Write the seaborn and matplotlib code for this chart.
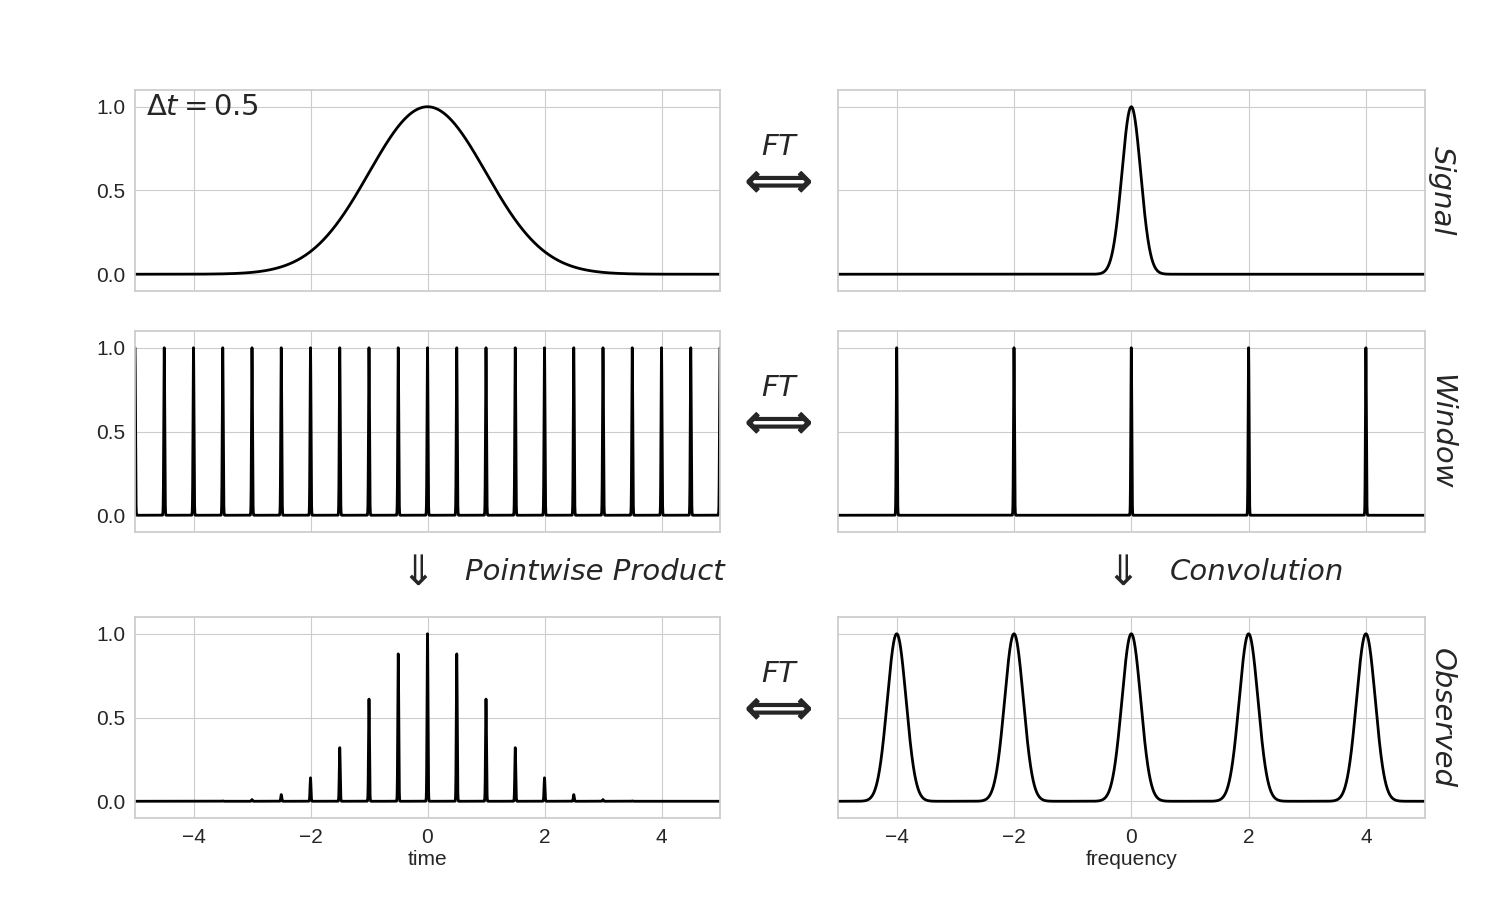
import numpy as np
import pandas as pd
import seaborn as sns
import matplotlib.pyplot as plt
import matplotlib.patheffects as pe

# values
time_range = [-5.0, 5.0]
freq_range = [-5.0, 5.0]

# signal: a single bump in time, its transform is a narrow bump in frequency
signal_center = [0.0]
signal_height = [1.0]
signal_width = 1.0
signal_ft_width = 0.16

# window: sampling every 0.5 in time, spikes every 2 in frequency
window_times = [-5.0, -4.5, -4.0, -3.5, -3.0, -2.5, -2.0, -1.5, -1.0, -0.5, 0.0,
                0.5, 1.0, 1.5, 2.0, 2.5, 3.0, 3.5, 4.0, 4.5, 5.0]
window_heights = [1.0] * len(window_times)
window_freqs = [-4.0, -2.0, 0.0, 2.0, 4.0]
window_freq_heights = [1.0, 1.0, 1.0, 1.0, 1.0]
spike_width = 0.008

# observed: sampled signal heights, periodic copies in frequency
observed_heights = [0.0, 0.0, 0.0, 0.002, 0.01, 0.04, 0.14, 0.32, 0.61, 0.88, 1.0,
                    0.88, 0.61, 0.32, 0.14, 0.04, 0.01, 0.002, 0.0, 0.0, 0.0]
observed_freqs = [-4.0, -2.0, 0.0, 2.0, 4.0]
observed_freq_heights = [1.0, 1.0, 1.0, 1.0, 1.0]

row_labels = ['Signal', 'Window', 'Observed']


def bumps(grid, centers, heights, width):
    y = np.zeros_like(grid)
    for c, h in zip(centers, heights):
        y = y + h * np.exp(-0.5 * ((grid - c) / width) ** 2)
    return y


t = np.linspace(time_range[0], time_range[1], 10001)
f = np.linspace(freq_range[0], freq_range[1], 10001)

curves = [
    (bumps(t, signal_center, signal_height, signal_width),
     bumps(f, signal_center, signal_height, signal_ft_width)),
    (bumps(t, window_times, window_heights, spike_width),
     bumps(f, window_freqs, window_freq_heights, spike_width)),
    (bumps(t, window_times, observed_heights, spike_width),
     bumps(f, observed_freqs, observed_freq_heights, signal_ft_width)),
]

sns.set_style('whitegrid')
plt.rcParams['font.family'] = ['Liberation Sans', 'DejaVu Sans']
plt.rcParams['mathtext.fontset'] = 'dejavusans'

fig = plt.figure(figsize=(15, 9), dpi=100)
rows_y = [0.6767, 0.4089, 0.0911]
h = 0.2233
txt = dict(family='DejaVu Sans', color='.15')
thick = [pe.withStroke(linewidth=1.0, foreground='.15')]

for i, (yt, yf) in enumerate(curves):
    axl = fig.add_axes([0.09, rows_y[i], 0.39, h])
    axr = fig.add_axes([0.5587, rows_y[i], 0.391, h])
    sns.lineplot(x=t, y=yt, ax=axl, color='black', lw=2)
    sns.lineplot(x=f, y=yf, ax=axr, color='black', lw=2)
    for ax in (axl, axr):
        ax.set_xlim(-5, 5)
        ax.set_ylim(-0.1, 1.1)
        ax.set_xticks([-4, -2, 0, 2, 4])
        ax.set_yticks([0, 0.5, 1.0])
        ax.tick_params(labelsize=15, colors='.15')
        for s in ax.spines.values():
            s.set_color('#cccccc')
            s.set_linewidth(1.25)
        if i < 2:
            ax.tick_params(labelbottom=False)
    axr.tick_params(labelleft=False)
    if i == 2:
        axl.set_xlabel('time', fontsize=15, color='.15', labelpad=2)
        axr.set_xlabel('frequency', fontsize=15, color='.15', labelpad=2)
    if i == 0:
        axl.text(0.018, 0.985, r'$\Delta t = 0.5$', transform=axl.transAxes,
                 ha='left', va='top', fontsize=21, **txt)

    yc = rows_y[i] + h / 2
    fig.text(0.52, yc + 0.048, '$FT$', ha='center', va='center', fontsize=21, **txt)
    fig.text(0.516, yc + 0.007, r'$\Longleftrightarrow$', ha='center', va='center',
             fontsize=34, path_effects=thick, **txt)
    fig.text(0.961, yc, row_labels[i], rotation=270, ha='center', va='center',
             fontsize=21, style='italic', **txt)

fig.text(0.2735, 0.364, r'$\Downarrow$', ha='center', va='center', fontsize=30, **txt)
fig.text(0.31, 0.364, 'Pointwise Product', ha='left', va='center', fontsize=21,
         style='italic', **txt)
fig.text(0.7435, 0.364, r'$\Downarrow$', ha='center', va='center', fontsize=30, **txt)
fig.text(0.78, 0.364, 'Convolution', ha='left', va='center', fontsize=21,
         style='italic', **txt)

fig.savefig('out.png', dpi=100)
